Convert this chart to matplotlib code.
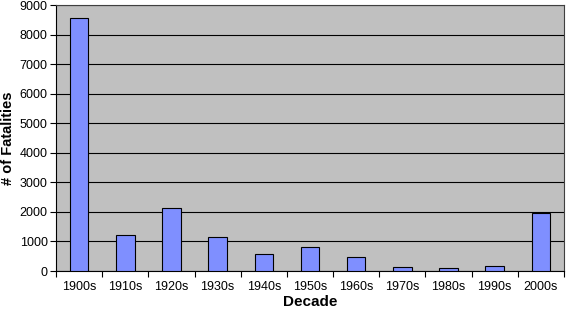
import numpy as np
import matplotlib.pyplot as plt

decades = ['1900s', '1910s', '1920s', '1930s', '1940s', '1950s',
           '1960s', '1970s', '1980s', '1990s', '2000s']
fatalities = [8560, 1220, 2140, 1165, 567, 825, 465, 146, 100, 160, 1970]
yticks = np.arange(0, 10000, 1000)

fig = plt.figure(figsize=(5.68, 3.13), dpi=100)
ax = fig.add_axes([56/568, 1-271/313, (564-56)/568, (271-5)/313])
ax.set_facecolor('#C0C0C0')

x = np.arange(len(decades))
ax.bar(x, fatalities, width=0.4, color='#7F8FFF', edgecolor='black', linewidth=0.8, zorder=3)

ax.set_xlim(-0.5, len(decades) - 0.5)
ax.set_ylim(0, 9000)
ax.set_yticks(yticks)
ax.set_yticklabels([str(v) for v in yticks], fontsize=9, family='Liberation Sans')
ax.yaxis.grid(True, color='black', linewidth=0.8, zorder=1)

# labels centred under bars, ticks between categories
ax.set_xticks(x)
ax.set_xticklabels(decades, fontsize=9, family='Liberation Sans')
ax.tick_params(axis='x', length=0, pad=7)
ax.set_xticks(np.arange(-0.5, len(decades)), minor=True)
ax.tick_params(axis='x', which='minor', length=4, direction='out', width=0.8)
ax.tick_params(axis='y', length=4, direction='out', width=0.8, pad=2)

for side in ['top', 'right']:
    ax.spines[side].set_color('#404040')
for side in ['left', 'bottom']:
    ax.spines[side].set_color('black')

ax.set_xlabel('Decade', fontsize=11, fontweight='bold', family='Liberation Sans', labelpad=2)
ax.set_ylabel('# of Fatalities', fontsize=10.5, fontweight='bold', family='Liberation Sans')
ax.yaxis.set_label_coords(-0.081, 0.5)

fig.savefig('out.png', dpi=100)
